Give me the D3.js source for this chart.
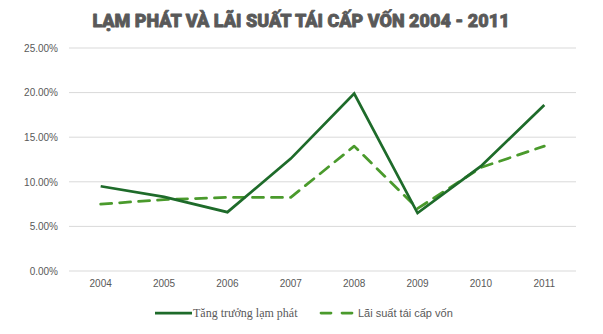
<!DOCTYPE html>
<html>
<head>
<meta charset="utf-8">
<script src="https://cdn.jsdelivr.net/npm/d3@7"></script>
<style>
  html, body { margin: 0; padding: 0; background: #fff; }
  svg { display: block; }
</style>
</head>
<body>
<svg id="chart" width="603" height="334"></svg>
<script>
// Năm, lạm phát và lãi suất tái cấp vốn (%)
const years = ["2004", "2005", "2006", "2007", "2008", "2009", "2010", "2011"];
const inflation = [9.5, 8.3, 6.6, 12.6, 19.9, 6.5, 11.75, 18.6];
const refiRate = [7.5, 8.0, 8.25, 8.25, 14.0, 7.0, 11.6, 14.0];
const yTicks = [0, 5, 10, 15, 20, 25];
const seriesNames = ["Tăng trưởng lạm phát", "Lãi suất tái cấp vốn"];
const title = "LẠM PHÁT VÀ LÃI SUẤT TÁI CẤP VỐN 2004 - 2011";

const svg = d3.select("#chart");
const margin = { left: 69, right: 27, top: 48, bottom: 63 };
const W = 603, H = 334;

const x = d3.scaleBand().domain(years).range([margin.left, W - margin.right]);
const y = d3.scaleLinear().domain([0, 25]).range([H - margin.bottom, margin.top]);

// Tiêu đề (đậm, viền cùng màu cho nét dày hơn)
svg.append("text")
  .attr("x", 301).attr("y", 27)
  .attr("text-anchor", "middle")
  .attr("font-family", "Roboto, sans-serif")
  .attr("font-weight", 900)
  .attr("font-size", 18)
  .attr("fill", "#595959")
  .attr("stroke", "#595959")
  .attr("stroke-width", 0.8)
  .attr("stroke-linejoin", "round")
  .text(title);

// Lưới ngang
svg.append("g")
  .selectAll("line")
  .data(yTicks)
  .join("line")
  .attr("x1", margin.left).attr("x2", W - margin.right)
  .attr("y1", d => y(d)).attr("y2", d => y(d))
  .attr("stroke", "#d9d9d9").attr("stroke-width", 1);

// Trục Y
const yAxis = svg.append("g")
  .attr("transform", `translate(${margin.left - 11},0)`)
  .call(d3.axisLeft(y).tickValues(yTicks).tickSize(0).tickPadding(0)
    .tickFormat(d => d.toFixed(2) + "%"));
yAxis.select(".domain").remove();
yAxis.selectAll("text")
  .attr("font-family", "Liberation Sans, Arial, sans-serif")
  .attr("font-size", 10).attr("fill", "#595959");

// Trục X
const xAxis = svg.append("g")
  .attr("transform", `translate(0,${y(0) + 9})`)
  .call(d3.axisBottom(x).tickSize(0).tickPadding(0));
xAxis.select(".domain").remove();
xAxis.selectAll("text")
  .attr("dy", "0.71em")
  .attr("font-family", "Liberation Sans, Arial, sans-serif")
  .attr("font-size", 10).attr("fill", "#595959");

const line = d3.line()
  .x((d, i) => x(years[i]) + x.bandwidth() / 2)
  .y(d => y(d));

// Lãi suất tái cấp vốn (nét đứt)
svg.append("path")
  .datum(refiRate)
  .attr("d", line)
  .attr("fill", "none")
  .attr("stroke", "#4a9a2c")
  .attr("stroke-width", 2.75)
  .attr("stroke-dasharray", "11,8")
  .attr("stroke-linecap", "round")
  .attr("stroke-linejoin", "round");

// Tăng trưởng lạm phát (nét liền)
svg.append("path")
  .datum(inflation)
  .attr("d", line)
  .attr("fill", "none")
  .attr("stroke", "#1e6b2a")
  .attr("stroke-width", 2.75)
  .attr("stroke-linejoin", "miter");

// Chú thích
const legY = 313;
svg.append("line")
  .attr("x1", 155).attr("x2", 192).attr("y1", legY).attr("y2", legY)
  .attr("stroke", "#1e6b2a").attr("stroke-width", 2.75);
svg.append("text")
  .attr("x", 193).attr("y", legY + 4)
  .attr("font-family", "Liberation Serif, Times New Roman, serif")
  .attr("font-size", 12).attr("fill", "#595959")
  .text(seriesNames[0]);

svg.append("line")
  .attr("x1", 321).attr("x2", 353).attr("y1", legY).attr("y2", legY)
  .attr("stroke", "#4a9a2c").attr("stroke-width", 2.75)
  .attr("stroke-dasharray", "10,11").attr("stroke-linecap", "round");
svg.append("text")
  .attr("x", 358).attr("y", legY + 4)
  .attr("font-family", "Liberation Sans, Arial, sans-serif")
  .attr("font-size", 11).attr("fill", "#595959")
  .text(seriesNames[1]);
</script>
</body>
</html>
